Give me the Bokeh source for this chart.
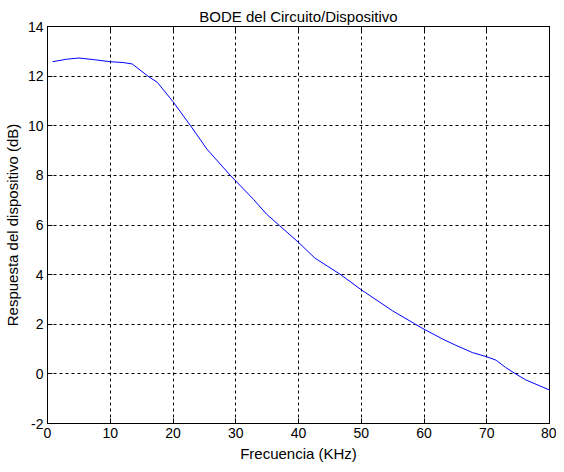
from bokeh.plotting import figure
from bokeh.models import Range1d, LinearAxis, FixedTicker
from bokeh.embed import file_html
from bokeh.resources import INLINE

# Data
freq_khz = [0.8, 3.0, 5.0, 7.5, 10.0, 12.0, 13.5, 16.0, 17.5, 20.0, 22.8, 25.4,
            29.1, 32.8, 34.9, 37.0, 40.0, 42.6, 46.6, 50.0, 52.0, 55.0, 58.5,
            60.0, 63.0, 65.0, 67.7, 70.0, 71.5, 73.0, 74.6, 76.2, 80.0]
resp_db = [12.58, 12.68, 12.73, 12.66, 12.58, 12.55, 12.49, 12.00, 11.75, 10.97,
           10.00, 9.06, 8.01, 7.04, 6.44, 5.97, 5.30, 4.67, 4.02, 3.39, 3.05,
           2.54, 2.02, 1.80, 1.40, 1.16, 0.86, 0.69, 0.55, 0.26, 0.00, -0.24, -0.65]

x_ticks = [0, 10, 20, 30, 40, 50, 60, 70, 80]
y_ticks = [-2, 0, 2, 4, 6, 8, 10, 12, 14]
y_tick_labels = ["-2", "0", "2", "4", "6", "8", "10", "12", "14"]

title_text = "BODE del Circuito/Dispositivo"
x_label = "Frecuencia (KHz)"
y_label = "Respuesta del dispositivo (dB)"

FONT = "Liberation Sans"

p = figure(width=556, height=464, output_backend="svg", toolbar_location=None,
           x_range=Range1d(0, 80), y_range=Range1d(-2, 14),
           min_border_left=45, min_border_right=7, min_border_top=26,
           min_border_bottom=41, title=title_text)

p.background_fill_color = "white"
p.border_fill_color = "white"
p.outline_line_color = "black"
p.outline_line_width = 1

p.title.align = "center"
p.title.text_font = FONT
p.title.text_font_size = "15px"
p.title.text_font_style = "normal"
p.title.text_color = "black"
p.title.standoff = 4

p.line(freq_khz, resp_db, line_color="#0000ff", line_width=1)

for ax, ticks in ((p.xaxis[0], x_ticks), (p.yaxis[0], y_ticks)):
    ax.ticker = FixedTicker(ticks=ticks)
    ax.major_tick_in = 5
    ax.major_tick_out = 0
    ax.minor_tick_line_color = None
    ax.axis_line_color = "black"
    ax.major_tick_line_color = "black"
    ax.major_label_text_font = FONT
    ax.major_label_text_font_size = "14px"
    ax.major_label_text_color = "black"
    ax.axis_label_text_font = FONT
    ax.axis_label_text_font_size = "15px"
    ax.axis_label_text_font_style = "normal"
    ax.axis_label_text_color = "black"
    ax.major_label_standoff = 4
    ax.axis_label_standoff = 4

p.yaxis[0].major_label_overrides = dict(zip(y_ticks, y_tick_labels))
p.xaxis.axis_label = x_label
p.yaxis.axis_label = y_label

# mirrored ticks on top and right
for loc, ticks in (("above", x_ticks), ("right", y_ticks)):
    ax = LinearAxis(ticker=FixedTicker(ticks=ticks))
    ax.major_tick_in = 5
    ax.major_tick_out = 0
    ax.minor_tick_line_color = None
    ax.axis_line_color = "black"
    ax.major_tick_line_color = "black"
    ax.major_label_text_font_size = "0px"
    ax.major_label_text_color = None
    ax.major_label_standoff = 0
    p.add_layout(ax, loc)

for g, ticks in ((p.xgrid[0], x_ticks), (p.ygrid[0], y_ticks)):
    g.ticker = FixedTicker(ticks=ticks)
    g.grid_line_color = "black"
    g.grid_line_dash = "3 3"
    g.grid_line_width = 1
    g.grid_line_alpha = 1.0

open("out.html", "w").write(file_html(p, INLINE))
